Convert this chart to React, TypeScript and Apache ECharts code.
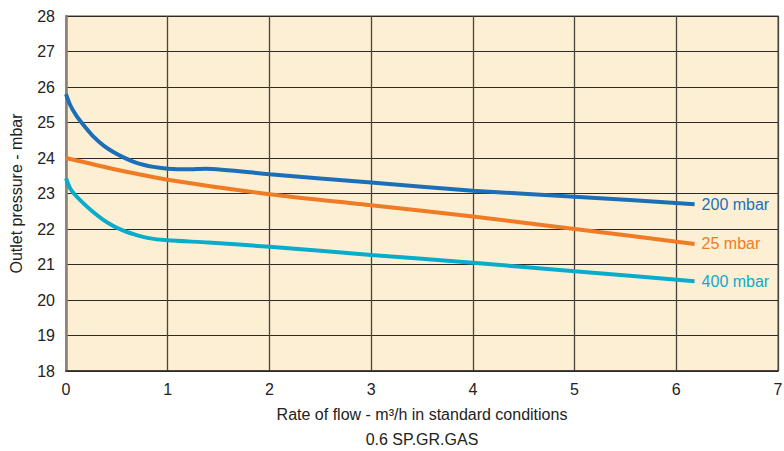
import React, { useEffect, useRef } from "react";
import * as echarts from "echarts";

const seriesNames = ["200 mbar", "25 mbar", "400 mbar"];
const seriesColors = ["#1b6fb9", "#ef7b25", "#0aaccc"];

const blue200: [number, number][] = [
  [0, 25.8], [0.04, 25.5], [0.1, 25.2], [0.18, 24.9], [0.27, 24.6], [0.37, 24.35], [0.47, 24.16],
  [0.57, 24.01], [0.66, 23.9], [0.76, 23.81], [0.86, 23.75], [1, 23.7], [1.2, 23.68], [1.37, 23.7],
  [2, 23.54], [3, 23.31], [4, 23.08], [5, 22.91], [6.18, 22.7],
];
const orange25: [number, number][] = [
  [0, 24.0], [0.5, 23.67], [1, 23.39], [2, 22.98], [3, 22.67], [4, 22.35], [5, 22.0], [6.18, 21.58],
];
const cyan400: [number, number][] = [
  [0, 23.43], [0.04, 23.15], [0.1, 22.93], [0.18, 22.7], [0.27, 22.47], [0.37, 22.25], [0.47, 22.08],
  [0.57, 21.95], [0.66, 21.86], [0.8, 21.75], [1, 21.68], [1.4, 21.62], [2, 21.5], [3, 21.27],
  [4, 21.05], [5, 20.81], [6.18, 20.53],
];

const xAxisTitle = "Rate of flow - m³/h in standard conditions\n0.6 SP.GR.GAS";
const yAxisTitle = "Outlet pressure - mbar";

const FONT = "'Liberation Sans', Arial, Helvetica, sans-serif";

export default function App() {
  const ref = useRef<HTMLDivElement>(null);
  useEffect(() => {
    document.body.style.margin = "0";
    if (!ref.current) return;
    const chart = echarts.init(ref.current, null, { renderer: "svg" });
    const data = [blue200, orange25, cyan400];
    chart.setOption({
      animation: false,
      backgroundColor: "#ffffff",
      textStyle: { fontFamily: FONT },
      grid: {
        left: 66, right: 6, top: 16, bottom: 80,
        outerBoundsMode: "none",
        containLabel: false,
        show: true, backgroundColor: "#fdefd4", borderColor: "#8c8276", borderWidth: 1.5,
      },
      xAxis: {
        type: "value", min: 0, max: 7, interval: 1,
        name: xAxisTitle, nameLocation: "middle", nameGap: 17,
        nameTextStyle: { fontFamily: FONT, fontSize: 16, color: "#222", lineHeight: 25, align: "center" },
        axisLine: { show: true, lineStyle: { color: "#2a2a2a", width: 1.5 } },
        axisTick: { show: false },
        axisLabel: { fontFamily: FONT, fontSize: 16, color: "#222", margin: 10 },
        splitLine: { show: true, lineStyle: { color: "#4a443e", width: 1.3 } },
      },
      yAxis: {
        type: "value", min: 18, max: 28, interval: 1,
        name: yAxisTitle, nameLocation: "middle", nameGap: 42, nameRotate: 90,
        nameTextStyle: { fontFamily: FONT, fontSize: 16, color: "#222" },
        axisLine: { show: true, lineStyle: { color: "#8c8276", width: 2.5 } },
        axisTick: { show: false },
        axisLabel: { fontFamily: FONT, fontSize: 16, color: "#222", margin: 11 },
        splitLine: { show: true, lineStyle: { color: "#2a2a2a", width: 1.2 } },
      },
      series: seriesNames.map((name, i) => ({
        name,
        type: "line",
        data: data[i],
        smooth: 0.25,
        showSymbol: false,
        symbol: "none",
        lineStyle: { color: seriesColors[i], width: 4, cap: "butt" },
        endLabel: {
          show: true,
          formatter: "{a}",
          color: seriesColors[i],
          fontFamily: FONT,
          fontSize: 16,
          distance: 7,
        },
      })),
    });
    return () => chart.dispose();
  }, []);
  return <div ref={ref} style={{ width: 784, height: 451 }} />;
}
